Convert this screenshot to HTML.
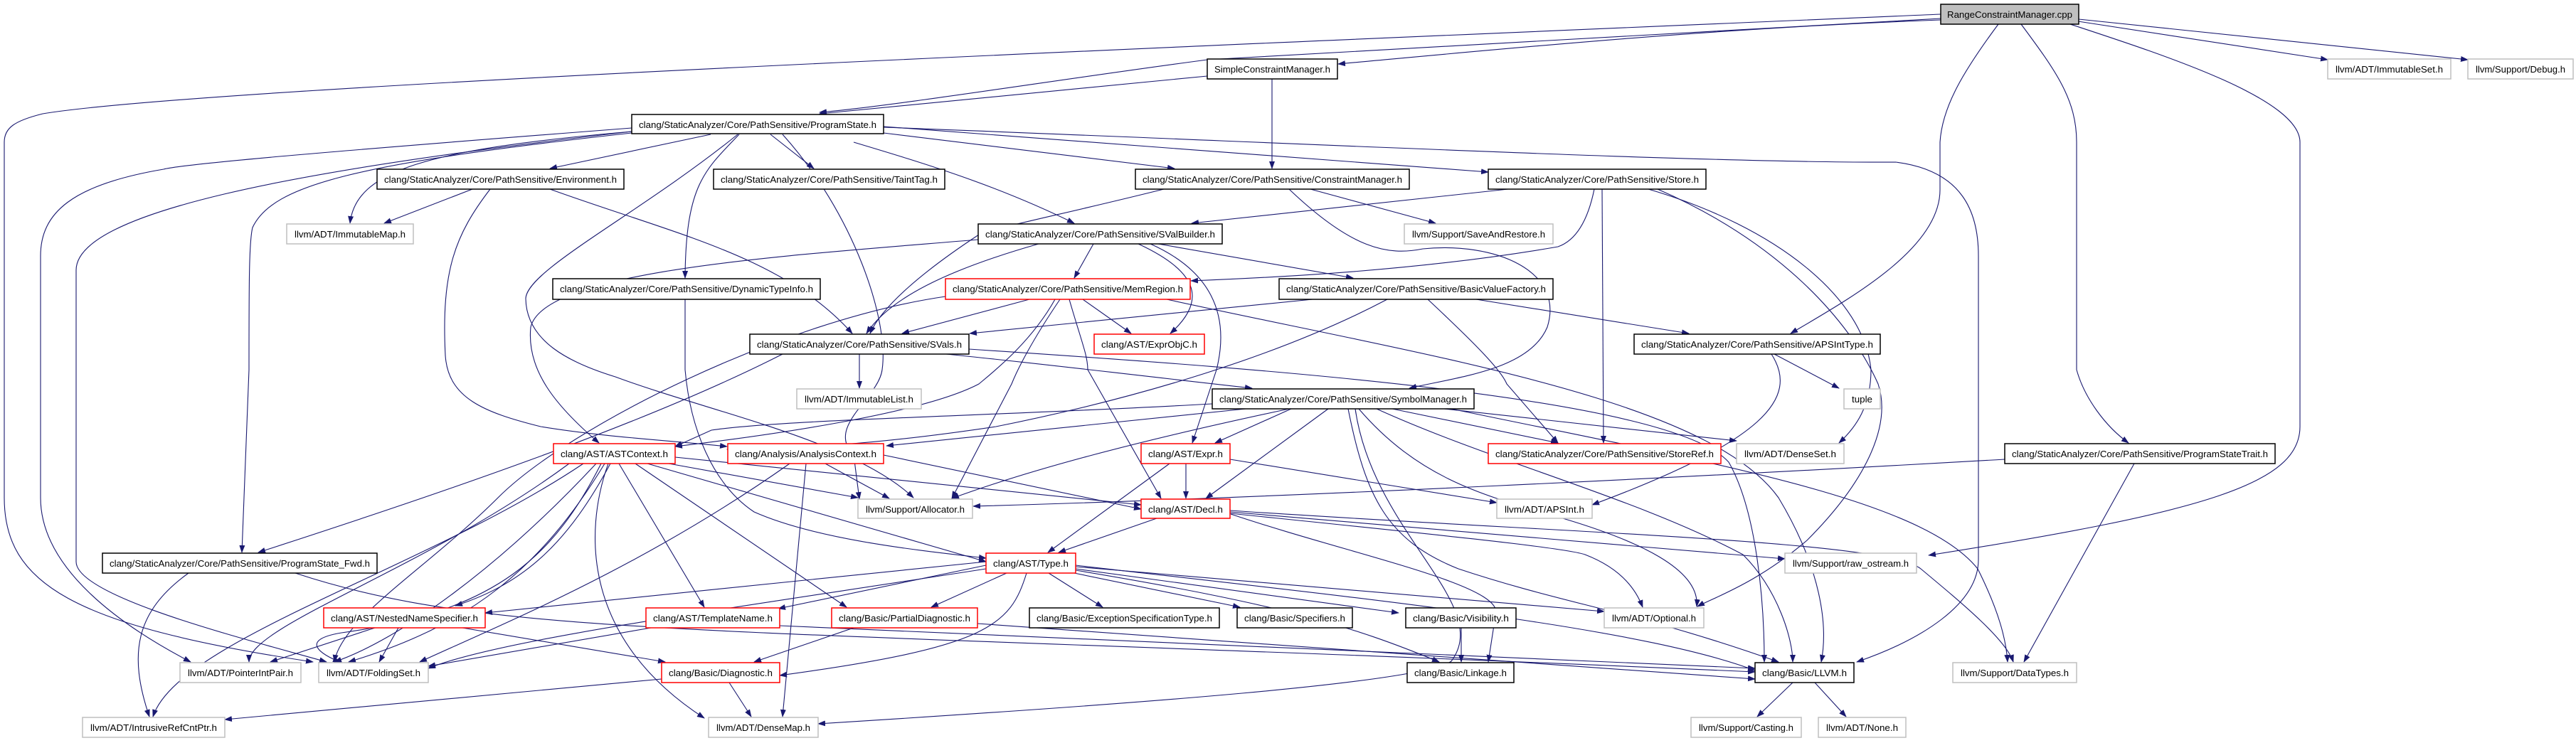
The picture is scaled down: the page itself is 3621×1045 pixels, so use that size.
<!DOCTYPE html>
<html><head><meta charset="utf-8"><style>
html,body{margin:0;padding:0;background:#fff}
svg{display:block}
text{font-family:"Liberation Sans",sans-serif;font-size:13px;fill:#000}
.b{fill:#fff;stroke:#000;stroke-width:1.5}
.g{fill:#fff;stroke:#bfbfbf;stroke-width:1.5}
.r{fill:#fff;stroke:#ff0000;stroke-width:1.5}
.e path{fill:none;stroke:#191970;stroke-width:1.1}
</style></head><body>
<svg width="3621" height="1045" viewBox="0 0 3621 1045" xmlns="http://www.w3.org/2000/svg">
<defs><marker id="a" markerWidth="11" markerHeight="8" refX="10" refY="4" orient="auto" markerUnits="userSpaceOnUse"><path d="M0,0 L11,4 L0,8 z" fill="#191970"/></marker></defs>
<g class="e" marker-end="url(#a)">
<!-- RCM -->
<path marker-end="url(#a)" d="M2728,20 C1800,60 300,120 60,160 C20,170 6,180 6,200 L6,700 C6,820 100,880 440,931"/>
<path marker-end="url(#a)" d="M2728,26 C2300,50 1900,70 1697,84 C1500,110 1250,150 1152,158"/>
<path marker-end="url(#a)" d="M2728,28 C2400,40 2100,70 1881,90"/>
<path marker-end="url(#a)" d="M2809,34 C2760,100 2730,150 2727,200 L2727,267 C2727,350 2600,420 2517,469"/>
<path marker-end="url(#a)" d="M2841,34 C2890,100 2919,140 2919,200 L2919,520 C2930,560 2960,600 2992,623"/>
<path marker-end="url(#a)" d="M2910,34 C3050,80 3233,140 3233,200 L3233,600 C3233,680 3100,720 2711,781"/>
<path marker-end="url(#a)" d="M2921,30 L3272,84"/>
<path marker-end="url(#a)" d="M2922,27 L3469,84"/>
<!-- SimpleConstraintManager -->
<path marker-end="url(#a)" d="M1697,107 L1152,160"/>
<path marker-end="url(#a)" d="M1788,111 L1788,237"/>
<!-- ProgramState -->
<path marker-end="url(#a)" d="M999,189 L773,237"/>
<path marker-end="url(#a)" d="M1083,189 L1144,237"/>
<path marker-end="url(#a)" d="M1039,189 C990,240 964,260 963,391"/>
<path marker-end="url(#a)" d="M888,185 C600,210 500,240 492,314"/>
<path marker-end="url(#a)" d="M888,187 C500,230 383,260 355,320 C350,340 350,400 350,520 L340,777"/>
<path marker-end="url(#a)" d="M888,180 C500,210 260,230 230,238 C100,260 57,300 57,360 L57,700 C57,800 170,880 268,931"/>
<path marker-end="url(#a)" d="M888,185 C400,240 107,300 107,380 L107,790 C107,840 350,900 459,931"/>
<path marker-end="url(#a)" d="M1242,187 L1651,237"/>
<path marker-end="url(#a)" d="M1242,178 L2092,242"/>
<path marker-end="url(#a)" d="M1242,179 C1800,200 2400,230 2665,228 C2760,240 2781,300 2781,360 L2781,787 C2781,850 2700,900 2610,931"/>
<path marker-end="url(#a)" d="M1200,200 C1300,230 1400,260 1510,314"/>
<path marker-end="url(#a)" d="M1037,189 C900,300 740,380 739,420 C740,480 800,510 865,530 C1000,580 1200,620 1284,700"/>
<path marker-end="url(#a)" d="M1100,189 C1200,300 1250,450 1240,520 C1235,560 1160,600 1200,640 L1208,702"/>
<!-- Environment -->
<path marker-end="url(#a)" d="M664,266 L540,314"/>
<path marker-end="url(#a)" d="M773,266 C950,330 1100,360 1198,469"/>
<path marker-end="url(#a)" d="M689,266 C640,330 620,380 626,500 C630,560 680,580 760,600 C850,615 950,620 1022,628"/>
<!-- DynamicTypeInfo -->
<path marker-end="url(#a)" d="M963,421 L963,520 C970,600 1000,680 1060,720 C1150,760 1300,775 1386,785"/>
<!-- ConstraintManager -->
<path marker-end="url(#a)" d="M1636,266 C1500,300 1400,320 1376,330 C1300,380 1240,430 1223,469"/>
<path marker-end="url(#a)" d="M1842,266 L2018,314"/>
<path marker-end="url(#a)" d="M1812,266 C1900,350 1950,360 2000,350 C2100,340 2200,380 2175,460 C2150,520 2050,530 1981,546"/>
<!-- Store -->
<path marker-end="url(#a)" d="M2120,266 L1675,314"/>
<path marker-end="url(#a)" d="M2241,266 C2230,320 2210,340 2190,347 C2000,380 1800,390 1674,395"/>
<path marker-end="url(#a)" d="M2252,266 L2254,623"/>
<path marker-end="url(#a)" d="M2317,266 C2500,320 2620,420 2630,520 C2630,570 2610,600 2585,623"/>
<path marker-end="url(#a)" d="M2330,266 C2500,340 2600,450 2640,540 C2660,600 2620,680 2540,760 C2470,820 2410,840 2386,853"/>
<!-- SValBuilder -->
<path marker-end="url(#a)" d="M1537,343 L1510,391"/>
<path marker-end="url(#a)" d="M1628,343 L1902,391"/>
<path marker-end="url(#a)" d="M1460,343 C1330,380 1250,420 1218,469"/>
<path marker-end="url(#a)" d="M1600,343 C1680,380 1700,420 1645,469"/>
<path marker-end="url(#a)" d="M1375,337 C1100,360 765,380 746,460 C740,520 780,570 842,623"/>
<path marker-end="url(#a)" d="M1617,343 C1700,380 1730,440 1710,520 L1676,623"/>
<!-- MemRegion -->
<path marker-end="url(#a)" d="M1447,421 L1268,469"/>
<path marker-end="url(#a)" d="M1522,421 L1590,469"/>
<path marker-end="url(#a)" d="M1490,421 C1450,480 1430,520 1422,540 L1338,701"/>
<path marker-end="url(#a)" d="M1483,421 C1450,480 1400,520 1376,540 C1300,580 1100,610 949,628"/>
<path marker-end="url(#a)" d="M1503,421 C1520,480 1529,500 1529,520 L1632,701"/>
<path marker-end="url(#a)" d="M1640,421 C2000,500 2400,560 2500,700 C2560,800 2570,880 2560,931"/>
<path marker-end="url(#a)" d="M1329,417 C1100,450 800,600 700,700 C600,800 480,870 470,931"/>
<!-- BasicValueFactory -->
<path marker-end="url(#a)" d="M1845,421 L1363,469"/>
<path marker-end="url(#a)" d="M2075,421 L2374,469"/>
<path marker-end="url(#a)" d="M2007,421 C2070,480 2110,520 2118,540 L2190,623"/>
<path marker-end="url(#a)" d="M1950,421 C1800,500 1600,560 1400,600 C1200,630 1100,630 1022,632"/>
<!-- SVals -->
<path marker-end="url(#a)" d="M1208,498 L1208,546"/>
<path marker-end="url(#a)" d="M1330,498 C1450,510 1529,520 1760,546"/>
<path marker-end="url(#a)" d="M1100,498 C900,600 600,700 363,777"/>
<path marker-end="url(#a)" d="M1362,491 C1800,520 2350,560 2430,650 C2470,720 2480,850 2480,931"/>
<!-- SymbolManager -->
<path marker-end="url(#a)" d="M1815,575 L1708,623"/>
<path marker-end="url(#a)" d="M1867,575 L1695,701"/>
<path marker-end="url(#a)" d="M1957,575 L2190,623"/>
<path marker-end="url(#a)" d="M2030,575 L2441,620"/>
<path marker-end="url(#a)" d="M1751,575 L1246,627"/>
<path marker-end="url(#a)" d="M1812,575 C1600,620 1450,660 1338,701"/>
<path marker-end="url(#a)" d="M1704,568 C1400,585 1100,590 1000,605 L949,628"/>
<path marker-end="url(#a)" d="M1895,575 C1920,700 1950,760 2050,800 C2200,850 2300,860 2500,931"/>
<path marker-end="url(#a)" d="M1910,575 C2000,680 2100,700 2200,730 C2300,760 2390,800 2385,853"/>
<path marker-end="url(#a)" d="M1935,575 C2100,650 2300,700 2450,780 C2500,830 2520,900 2520,931"/>
<path marker-end="url(#a)" d="M2040,575 C2400,650 2700,700 2780,800 C2810,860 2820,900 2822,931"/>
<path marker-end="url(#a)" d="M1905,575 C1930,750 2100,850 2040,930 C2000,960 1600,990 1150,1018"/>
<!-- Expr -->
<path marker-end="url(#a)" d="M1667,652 L1667,701"/>
<path marker-end="url(#a)" d="M1644,652 L1473,777"/>
<path marker-end="url(#a)" d="M1729,646 L2104,707"/>
<!-- Decl -->
<path marker-end="url(#a)" d="M1626,729 L1488,777"/>
<path marker-end="url(#a)" d="M1730,723 C1900,780 2100,820 2103,860 L2092,931"/>
<path marker-end="url(#a)" d="M1729,720 L2509,786"/>
<path marker-end="url(#a)" d="M1729,718 C2200,750 2650,760 2700,800 C2760,850 2820,900 2830,931"/>
<path marker-end="url(#a)" d="M1729,722 C2000,750 2200,770 2228,780 C2280,800 2300,830 2309,854"/>
<!-- Type -->
<path marker-end="url(#a)" d="M1386,790 L682,862"/>
<path marker-end="url(#a)" d="M1386,795 L1094,856"/>
<path marker-end="url(#a)" d="M1415,806 L1309,854"/>
<path marker-end="url(#a)" d="M1474,806 L1550,854"/>
<path marker-end="url(#a)" d="M1510,806 L1743,854"/>
<path marker-end="url(#a)" d="M1512,800 L1966,862"/>
<path marker-end="url(#a)" d="M1512,797 L2255,860"/>
<path marker-end="url(#a)" d="M1512,802 C1800,850 1900,880 2023,931"/>
<path marker-end="url(#a)" d="M1512,795 C1900,840 2300,880 2467,943"/>
<path marker-end="url(#a)" d="M1443,806 C1420,880 1390,910 1096,950"/>
<path marker-end="url(#a)" d="M1386,800 C1000,860 700,900 602,940"/>
<!-- lower -->
<path marker-end="url(#a)" d="M2054,883 L2054,931"/>
<path marker-end="url(#a)" d="M1200,883 L1060,931"/>
<path marker-end="url(#a)" d="M1374,877 L2467,955"/>
<path marker-end="url(#a)" d="M527,883 L380,931"/>
<path marker-end="url(#a)" d="M560,883 L533,931"/>
<path marker-end="url(#a)" d="M650,883 L935,931"/>
<path marker-end="url(#a)" d="M915,883 L602,937"/>
<path marker-end="url(#a)" d="M1096,880 L2467,940"/>
<path marker-end="url(#a)" d="M930,955 L316,1012"/>
<path marker-end="url(#a)" d="M1025,960 L1056,1008"/>
<path marker-end="url(#a)" d="M2520,960 L2470,1008"/>
<path marker-end="url(#a)" d="M2551,960 L2595,1008"/>
<path marker-end="url(#a)" d="M2818,646 C2400,670 1800,700 1368,712"/>
<path marker-end="url(#a)" d="M3000,652 L2845,931"/>
<path marker-end="url(#a)" d="M2490,498 C2530,560 2480,620 2238,710"/>
<path marker-end="url(#a)" d="M2494,498 L2585,546"/>
<path marker-end="url(#a)" d="M265,806 C190,860 180,920 210,1008"/>
<path marker-end="url(#a)" d="M415,806 C700,900 1000,880 2467,945"/>
<!-- ASTContext -->
<path marker-end="url(#a)" d="M838,652 C700,800 560,900 470,931"/>
<path marker-end="url(#a)" d="M845,652 C780,780 700,860 480,890 C420,900 450,920 478,931"/>
<path marker-end="url(#a)" d="M850,652 C760,800 660,880 490,931"/>
<path marker-end="url(#a)" d="M858,652 C800,760 740,820 640,852"/>
<path marker-end="url(#a)" d="M870,652 L990,854"/>
<path marker-end="url(#a)" d="M893,652 L1190,854"/>
<path marker-end="url(#a)" d="M910,652 L1386,790"/>
<path marker-end="url(#a)" d="M949,643 L1604,710"/>
<path marker-end="url(#a)" d="M940,652 L1206,700"/>
<path marker-end="url(#a)" d="M855,652 C820,750 820,900 990,1010"/>
<path marker-end="url(#a)" d="M800,652 C600,800 350,880 350,931"/>
<path marker-end="url(#a)" d="M820,652 C600,800 250,900 215,1008"/>
<!-- AnalysisContext -->
<path marker-end="url(#a)" d="M1242,640 L1604,716"/>
<path marker-end="url(#a)" d="M1160,652 L1250,701"/>
<path marker-end="url(#a)" d="M1133,652 L1100,1008"/>
<path marker-end="url(#a)" d="M1110,652 C900,800 700,880 590,931"/>
</g>
<!-- nodes -->
<g>
<rect class="b" x="2728" y="6" width="194" height="28" style="fill:#bfbfbf"/><text x="2825" y="25" text-anchor="middle" textLength="176" lengthAdjust="spacingAndGlyphs">RangeConstraintManager.cpp</text>
<rect class="b" x="1697" y="83" width="183" height="28"/><text x="1788.5" y="102" text-anchor="middle" textLength="163" lengthAdjust="spacingAndGlyphs">SimpleConstraintManager.h</text>
<rect class="g" x="3272" y="83" width="173" height="28"/><text x="3358.5" y="102" text-anchor="middle" textLength="151" lengthAdjust="spacingAndGlyphs">llvm/ADT/ImmutableSet.h</text>
<rect class="g" x="3469" y="83" width="148" height="28"/><text x="3543" y="102" text-anchor="middle" textLength="126" lengthAdjust="spacingAndGlyphs">llvm/Support/Debug.h</text>
<rect class="b" x="888" y="161" width="354" height="27"/><text x="1065" y="180" text-anchor="middle" textLength="334" lengthAdjust="spacingAndGlyphs">clang/StaticAnalyzer/Core/PathSensitive/ProgramState.h</text>
<rect class="b" x="530" y="238" width="347" height="28"/><text x="703.5" y="257" text-anchor="middle" textLength="327" lengthAdjust="spacingAndGlyphs">clang/StaticAnalyzer/Core/PathSensitive/Environment.h</text>
<rect class="b" x="1003" y="238" width="325" height="28"/><text x="1165.5" y="257" text-anchor="middle" textLength="305" lengthAdjust="spacingAndGlyphs">clang/StaticAnalyzer/Core/PathSensitive/TaintTag.h</text>
<rect class="b" x="1596" y="238" width="385" height="28"/><text x="1788.5" y="257" text-anchor="middle" textLength="365" lengthAdjust="spacingAndGlyphs">clang/StaticAnalyzer/Core/PathSensitive/ConstraintManager.h</text>
<rect class="b" x="2092" y="238" width="306" height="28"/><text x="2245" y="257" text-anchor="middle" textLength="286" lengthAdjust="spacingAndGlyphs">clang/StaticAnalyzer/Core/PathSensitive/Store.h</text>
<rect class="g" x="403" y="315" width="178" height="28"/><text x="492" y="334" text-anchor="middle" textLength="156" lengthAdjust="spacingAndGlyphs">llvm/ADT/ImmutableMap.h</text>
<rect class="b" x="1375" y="315" width="343" height="28"/><text x="1546.5" y="334" text-anchor="middle" textLength="323" lengthAdjust="spacingAndGlyphs">clang/StaticAnalyzer/Core/PathSensitive/SValBuilder.h</text>
<rect class="g" x="1974" y="315" width="209" height="28"/><text x="2078.5" y="334" text-anchor="middle" textLength="187" lengthAdjust="spacingAndGlyphs">llvm/Support/SaveAndRestore.h</text>
<rect class="b" x="777" y="392" width="376" height="29"/><text x="965" y="411" text-anchor="middle" textLength="356" lengthAdjust="spacingAndGlyphs">clang/StaticAnalyzer/Core/PathSensitive/DynamicTypeInfo.h</text>
<rect class="r" x="1329" y="392" width="344" height="29"/><text x="1501" y="411" text-anchor="middle" textLength="324" lengthAdjust="spacingAndGlyphs">clang/StaticAnalyzer/Core/PathSensitive/MemRegion.h</text>
<rect class="b" x="1798" y="392" width="385" height="29"/><text x="1990.5" y="411" text-anchor="middle" textLength="365" lengthAdjust="spacingAndGlyphs">clang/StaticAnalyzer/Core/PathSensitive/BasicValueFactory.h</text>
<rect class="b" x="1054" y="470" width="308" height="28"/><text x="1208" y="489" text-anchor="middle" textLength="288" lengthAdjust="spacingAndGlyphs">clang/StaticAnalyzer/Core/PathSensitive/SVals.h</text>
<rect class="r" x="1538" y="470" width="155" height="28"/><text x="1615.5" y="489" text-anchor="middle" textLength="135" lengthAdjust="spacingAndGlyphs">clang/AST/ExprObjC.h</text>
<rect class="b" x="2297" y="470" width="346" height="28"/><text x="2470" y="489" text-anchor="middle" textLength="326" lengthAdjust="spacingAndGlyphs">clang/StaticAnalyzer/Core/PathSensitive/APSIntType.h</text>
<rect class="g" x="1120" y="547" width="175" height="28"/><text x="1207.5" y="566" text-anchor="middle" textLength="153" lengthAdjust="spacingAndGlyphs">llvm/ADT/ImmutableList.h</text>
<rect class="b" x="1704" y="547" width="368" height="28"/><text x="1888" y="566" text-anchor="middle" textLength="348" lengthAdjust="spacingAndGlyphs">clang/StaticAnalyzer/Core/PathSensitive/SymbolManager.h</text>
<rect class="g" x="2592" y="547" width="51" height="28"/><text x="2617.5" y="566" text-anchor="middle" textLength="29" lengthAdjust="spacingAndGlyphs">tuple</text>
<rect class="r" x="778" y="624" width="171" height="28"/><text x="863.5" y="643" text-anchor="middle" textLength="151" lengthAdjust="spacingAndGlyphs">clang/AST/ASTContext.h</text>
<rect class="r" x="1023" y="624" width="219" height="28"/><text x="1132.5" y="643" text-anchor="middle" textLength="199" lengthAdjust="spacingAndGlyphs">clang/Analysis/AnalysisContext.h</text>
<rect class="r" x="1604" y="624" width="125" height="28"/><text x="1666.5" y="643" text-anchor="middle" textLength="105" lengthAdjust="spacingAndGlyphs">clang/AST/Expr.h</text>
<rect class="r" x="2092" y="624" width="327" height="28"/><text x="2255.5" y="643" text-anchor="middle" textLength="307" lengthAdjust="spacingAndGlyphs">clang/StaticAnalyzer/Core/PathSensitive/StoreRef.h</text>
<rect class="g" x="2441" y="624" width="151" height="28"/><text x="2516.5" y="643" text-anchor="middle" textLength="129" lengthAdjust="spacingAndGlyphs">llvm/ADT/DenseSet.h</text>
<rect class="b" x="2818" y="624" width="380" height="28"/><text x="3008" y="643" text-anchor="middle" textLength="360" lengthAdjust="spacingAndGlyphs">clang/StaticAnalyzer/Core/PathSensitive/ProgramStateTrait.h</text>
<rect class="g" x="1206" y="702" width="161" height="27"/><text x="1286.5" y="721" text-anchor="middle" textLength="139" lengthAdjust="spacingAndGlyphs">llvm/Support/Allocator.h</text>
<rect class="r" x="1604" y="702" width="125" height="27"/><text x="1666.5" y="721" text-anchor="middle" textLength="105" lengthAdjust="spacingAndGlyphs">clang/AST/Decl.h</text>
<rect class="g" x="2104" y="702" width="134" height="27"/><text x="2171" y="721" text-anchor="middle" textLength="112" lengthAdjust="spacingAndGlyphs">llvm/ADT/APSInt.h</text>
<rect class="b" x="144" y="778" width="386" height="28"/><text x="337" y="797" text-anchor="middle" textLength="366" lengthAdjust="spacingAndGlyphs">clang/StaticAnalyzer/Core/PathSensitive/ProgramState_Fwd.h</text>
<rect class="r" x="1386" y="778" width="126" height="28"/><text x="1449" y="797" text-anchor="middle" textLength="106" lengthAdjust="spacingAndGlyphs">clang/AST/Type.h</text>
<rect class="g" x="2509" y="778" width="185" height="28"/><text x="2601.5" y="797" text-anchor="middle" textLength="163" lengthAdjust="spacingAndGlyphs">llvm/Support/raw_ostream.h</text>
<rect class="r" x="455" y="855" width="227" height="28"/><text x="568.5" y="874" text-anchor="middle" textLength="207" lengthAdjust="spacingAndGlyphs">clang/AST/NestedNameSpecifier.h</text>
<rect class="r" x="908" y="855" width="188" height="28"/><text x="1002" y="874" text-anchor="middle" textLength="168" lengthAdjust="spacingAndGlyphs">clang/AST/TemplateName.h</text>
<rect class="r" x="1169" y="855" width="205" height="28"/><text x="1271.5" y="874" text-anchor="middle" textLength="185" lengthAdjust="spacingAndGlyphs">clang/Basic/PartialDiagnostic.h</text>
<rect class="b" x="1447" y="855" width="267" height="28"/><text x="1580.5" y="874" text-anchor="middle" textLength="247" lengthAdjust="spacingAndGlyphs">clang/Basic/ExceptionSpecificationType.h</text>
<rect class="b" x="1739" y="855" width="162" height="28"/><text x="1820" y="874" text-anchor="middle" textLength="142" lengthAdjust="spacingAndGlyphs">clang/Basic/Specifiers.h</text>
<rect class="b" x="1976" y="855" width="155" height="28"/><text x="2053.5" y="874" text-anchor="middle" textLength="135" lengthAdjust="spacingAndGlyphs">clang/Basic/Visibility.h</text>
<rect class="g" x="2255" y="855" width="140" height="28"/><text x="2325" y="874" text-anchor="middle" textLength="118" lengthAdjust="spacingAndGlyphs">llvm/ADT/Optional.h</text>
<rect class="g" x="253" y="932" width="170" height="28"/><text x="338" y="951" text-anchor="middle" textLength="148" lengthAdjust="spacingAndGlyphs">llvm/ADT/PointerIntPair.h</text>
<rect class="g" x="448" y="932" width="154" height="28"/><text x="525" y="951" text-anchor="middle" textLength="132" lengthAdjust="spacingAndGlyphs">llvm/ADT/FoldingSet.h</text>
<rect class="r" x="930" y="932" width="166" height="28"/><text x="1013" y="951" text-anchor="middle" textLength="146" lengthAdjust="spacingAndGlyphs">clang/Basic/Diagnostic.h</text>
<rect class="b" x="1978" y="932" width="150" height="28"/><text x="2053" y="951" text-anchor="middle" textLength="130" lengthAdjust="spacingAndGlyphs">clang/Basic/Linkage.h</text>
<rect class="b" x="2467" y="932" width="139" height="28"/><text x="2536.5" y="951" text-anchor="middle" textLength="119" lengthAdjust="spacingAndGlyphs">clang/Basic/LLVM.h</text>
<rect class="g" x="2745" y="932" width="174" height="28"/><text x="2832" y="951" text-anchor="middle" textLength="152" lengthAdjust="spacingAndGlyphs">llvm/Support/DataTypes.h</text>
<rect class="g" x="116" y="1009" width="200" height="28"/><text x="216" y="1028" text-anchor="middle" textLength="178" lengthAdjust="spacingAndGlyphs">llvm/ADT/IntrusiveRefCntPtr.h</text>
<rect class="g" x="996" y="1009" width="154" height="28"/><text x="1073" y="1028" text-anchor="middle" textLength="132" lengthAdjust="spacingAndGlyphs">llvm/ADT/DenseMap.h</text>
<rect class="g" x="2377" y="1009" width="155" height="28"/><text x="2454.5" y="1028" text-anchor="middle" textLength="133" lengthAdjust="spacingAndGlyphs">llvm/Support/Casting.h</text>
<rect class="g" x="2556" y="1009" width="123" height="28"/><text x="2617.5" y="1028" text-anchor="middle" textLength="101" lengthAdjust="spacingAndGlyphs">llvm/ADT/None.h</text>
</g>
</svg>
</body></html>
